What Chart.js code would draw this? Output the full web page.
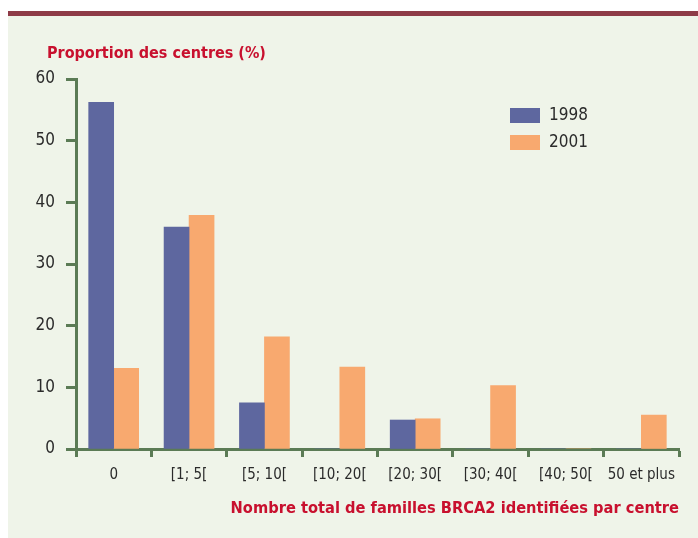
<!DOCTYPE html>
<html>
<head>
<meta charset="utf-8">
<script src="https://cdn.jsdelivr.net/npm/chart.js@4.4.1/dist/chart.umd.min.js"></script>
<style>
  html, body { margin: 0; padding: 0; background: #ffffff; }
  #wrap { position: relative; width: 698px; height: 538px; }
  #panel {
    position: absolute; left: 8px; top: 11px; width: 690px; height: 522px;
    background: #eff4e9; border-top: 5px solid #8e3b47;
  }
  #graph { position: absolute; left: 0; top: 0; }
</style>
</head>
<body>
<div id="wrap">
  <div id="panel"></div>
  <canvas id="graph" width="698" height="538"></canvas>
</div>
<script>
// -------------------------
// DATA
// -------------------------
const categories = ["0", "[1; 5[", "[5; 10[", "[10; 20[", "[20; 30[", "[30; 40[", "[40; 50[", "50 et plus"];
const values1998 = [56.2, 36.0, 7.5, 0, 4.7, 0, 0, 0];
const values2001 = [13.1, 37.9, 18.2, 13.3, 4.9, 10.3, 0, 5.5];
const seriesNames = ["1998", "2001"];
const yTicks = [0, 10, 20, 30, 40, 50, 60];

const yTitle = "Proportion des centres (%)";
const xTitle = "Nombre total de familles BRCA2 identifiées par centre";

const AXIS = "#5b7b55";
const RED = "#c8102e";
const TXT = "#2b2b2b";
const COND = "'DejaVu Sans Condensed', 'Liberation Sans Narrow', sans-serif";

// -------------------------
// LITTLE PLUGINS
// -------------------------
// y title sits above the axis, horizontal
const topTitle = {
  id: "topTitle",
  afterDraw(chart) {
    const ctx = chart.ctx;
    ctx.save();
    ctx.font = "bold 16px " + COND;
    ctx.fillStyle = RED;
    ctx.textBaseline = "middle";
    ctx.textAlign = "left";
    ctx.fillText(yTitle, chart.chartArea.left - 29, 54);
    ctx.restore();
  }
};

// legend box inside the plot, stacked
const boxLegend = {
  id: "boxLegend",
  afterDraw(chart) {
    const ctx = chart.ctx;
    const x0 = chart.chartArea.left + 434;
    const y0 = chart.chartArea.top + 29;
    ctx.save();
    ctx.font = "17px " + COND;
    ctx.textBaseline = "middle";
    chart.data.datasets.forEach((ds, i) => {
      const y = y0 + i * 27;
      ctx.fillStyle = ds.backgroundColor;
      ctx.fillRect(x0, y, 30, 15);
      ctx.fillStyle = TXT;
      ctx.fillText(ds.label, x0 + 39, y + 8);
    });
    ctx.restore();
  }
};

// -------------------------
// INIT CHART
// -------------------------
function initChart() {
  const ctx = document.getElementById("graph").getContext("2d");

  new Chart(ctx, {
    type: "bar",
    data: {
      labels: categories,
      datasets: [
        { label: seriesNames[0], data: values1998, backgroundColor: "#5e679f", barThickness: 25 },
        { label: seriesNames[1], data: values2001, backgroundColor: "#f8a96f", barThickness: 25 }
      ]
    },
    options: {
      responsive: false,
      animation: false,
      layout: { padding: { top: 79, right: 19, left: 8, bottom: 0 } },
      plugins: {
        legend: { display: false },
        tooltip: { enabled: false }
      },
      scales: {
        x: {
          z: 1,
          afterFit(scale) { scale.height = 89; },
          grid: {
            offset: true,
            drawOnChartArea: false,
            tickLength: 8,
            tickColor: AXIS,
            tickWidth: 3
          },
          border: { color: AXIS, width: 3 },
          ticks: {
            color: TXT, padding: 9, maxRotation: 0, minRotation: 0, autoSkip: false,
            font: { family: COND, size: 15 }
          },
          title: {
            display: true,
            text: xTitle,
            align: "end",
            color: RED,
            padding: { top: 0, bottom: 19 },
            font: { family: COND, size: 16.3, weight: "bold" }
          }
        },
        y: {
          z: 1,
          min: 0,
          max: 60,
          afterFit(scale) { scale.width = 68; },
          afterBuildTicks(scale) { scale.ticks = yTicks.map(v => ({ value: v })); },
          grid: {
            drawOnChartArea: false,
            tickLength: 10,
            tickColor: AXIS,
            tickWidth: 3
          },
          border: { color: AXIS, width: 3 },
          ticks: { color: TXT, padding: 11, font: { family: COND, size: 17 } }
        }
      }
    },
    plugins: [topTitle, boxLegend]
  });
}

// -------------------------
// START
// -------------------------
initChart();
</script>
</body>
</html>
